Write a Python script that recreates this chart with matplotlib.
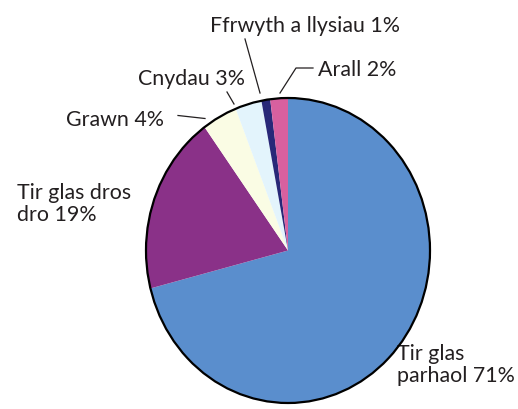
import matplotlib
matplotlib.use("Agg")
import matplotlib.pyplot as plt
from matplotlib.patches import Ellipse

# slice data, clockwise from the top
labels = ["Tir glas\nparhaol 71%", "Tir glas dros\ndro 19%", "Grawn 4%",
          "Cnydau 3%", "Ffrwyth a llysiau 1%", "Arall 2%"]
values = [71, 19, 4, 3, 1, 2]
colors = ["#5a8ecd", "#8a3188", "#fafce4", "#e3f4fc", "#282878", "#d8609f"]

W, H = 518, 409
CX, CY, RX, RY = 288, 250.5, 142, 152.5


def px(x, y):
    # image pixel (top-left origin) -> pie data units
    return ((x - CX) / RX, (CY - y) / RY)


plt.rcParams["font.family"] = ["Lato", "DejaVu Sans"]

fig = plt.figure(figsize=(W / 100, H / 100), dpi=100)
ax = fig.add_axes([0, 0, 1, 1])

ax.pie(values, colors=colors, startangle=90, counterclock=False,
       radius=1, wedgeprops=dict(linewidth=0))
ax.add_patch(Ellipse((0, 0), 2, 2, fill=False, edgecolor="black",
                     linewidth=1.6, zorder=5))
ax.set_aspect("auto")
ax.set_xlim(-CX / RX, (W - CX) / RX)
ax.set_ylim(-(H - CY) / RY, CY / RY)
ax.axis("off")

# label text: (left x, baseline y) in pixels
text_pos = [(397, 381.5), (17, 221), (66, 126), (138, 85), (210, 31.5), (318, 76)]
fs = 15.4
for lab, (tx, ty) in zip(labels, text_pos):
    ax.text(*px(tx, ty), lab, fontsize=fs, ha="left", va="baseline",
            color="#231f20", linespacing=1.1, clip_on=False)

# leader lines (pixel paths)
leaders = [
    [(178, 115.5), (205, 118.5)],
    [(227, 92), (234, 104)],
    [(245, 39), (260, 93)],
    [(313, 68), (296, 68), (280, 93)],
]
for path in leaders:
    pts = [px(x, y) for x, y in path]
    ax.plot([p[0] for p in pts], [p[1] for p in pts], color="#231f20",
            linewidth=0.9, clip_on=False)

fig.savefig("out.png", dpi=100)
